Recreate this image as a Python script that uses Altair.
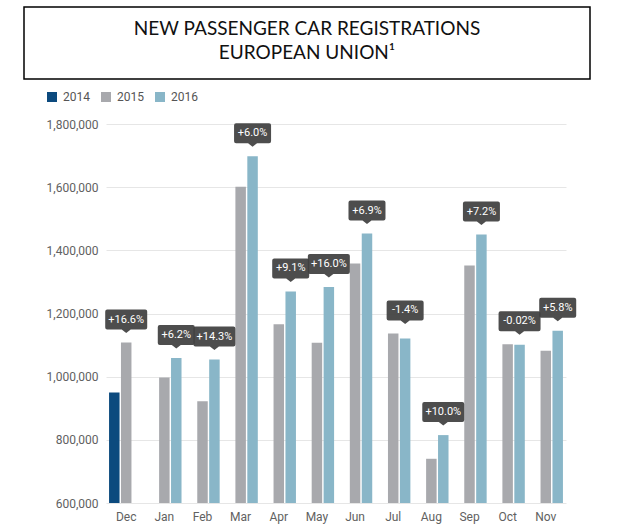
import altair as alt
import pandas as pd

# Monthly new passenger car registrations, EU (Dec 2015 - Nov 2016 vs. previous year)
months = ["Dec", "Jan", "Feb", "Mar", "Apr", "May", "Jun", "Jul", "Aug", "Sep", "Oct", "Nov"]
years = ["2014", "2015", "2016"]
reg_2014 = [950000, None, None, None, None, None, None, None, None, None, None, None]
reg_2015 = [1108000, 997000, 922000, 1601000, 1166000, 1107000, 1358000, 1137000, 740000, 1352000, 1103000, 1082000]
reg_2016 = [None, 1059000, 1054000, 1698000, 1270000, 1284000, 1453000, 1121000, 815000, 1450000, 1101000, 1145000]
changes = ["+16.6%", "+6.2%", "+14.3%", "+6.0%", "+9.1%", "+16.0%", "+6.9%", "-1.4%", "+10.0%", "+7.2%", "-0.02%", "+5.8%"]

colors = ["#0c4a7e", "#a8a9ad", "#89b6c8"]
y_ticks = [600000, 800000, 1000000, 1200000, 1400000, 1600000, 1800000]

series = dict(zip(years, [reg_2014, reg_2015, reg_2016]))
bar_rows, tag_rows = [], []
for i, m in enumerate(months):
    present = [(yr, series[yr][i]) for yr in years if series[yr][i] is not None]
    for yr, v in present:
        bar_rows.append({"month": m, "year": yr, "units": v})
    tag_rows.append({
        "month": m,
        "year": present[-1][0],
        "units": max(v for _, v in present),
        "change": changes[i],
        "wide": "wide" if len(changes[i]) > 5 else "narrow",
    })
bars_df = pd.DataFrame(bar_rows)
tags_df = pd.DataFrame(tag_rows)


def tag_path(w, unit=22.0):
    """Rounded callout box with a small pointer, in symbol units."""
    hw = w / 2 / unit
    top, bot, tip = -33 / unit, -13 / unit, -9.5 / unit
    pw, r = 4.5 / unit, 2 / unit
    f = lambda v: f"{v:.4f}"
    return (
        f"M{f(-hw + r)},{f(top)} L{f(hw - r)},{f(top)} Q{f(hw)},{f(top)} {f(hw)},{f(top + r)} "
        f"L{f(hw)},{f(bot - r)} Q{f(hw)},{f(bot)} {f(hw - r)},{f(bot)} "
        f"L{f(pw)},{f(bot)} L0,{f(tip)} L{f(-pw)},{f(bot)} "
        f"L{f(-hw + r)},{f(bot)} Q{f(-hw)},{f(bot)} {f(-hw)},{f(bot - r)} "
        f"L{f(-hw)},{f(top + r)} Q{f(-hw)},{f(top)} {f(-hw + r)},{f(top)} Z"
    )


x_axis = alt.Axis(title=None, labelAngle=0, ticks=False, domain=False, labelPadding=8,
                  labelFont="Roboto", labelFontSize=12, labelColor="#616161", grid=False)
y_axis = alt.Axis(title=None, values=y_ticks, format=",d", formatType="number", domain=False,
                  ticks=False, labelPadding=8, labelFont="Roboto", labelFontSize=12,
                  labelColor="#616161", gridColor="#e6e6e6", gridWidth=1)
y_scale = alt.Scale(domain=[600000, 1800000], zero=False, nice=False, clamp=True)
x_scale = alt.Scale(domain=months, paddingInner=0.1, paddingOuter=0.08)
off_scale = alt.Scale(domain=years, paddingInner=0.12)

# shared position encodings for every data layer
pos = dict(
    x=alt.X("month:N", sort=months, scale=x_scale, axis=x_axis, title=None),
    xOffset=alt.XOffset("year:N", scale=off_scale),
    y=alt.Y("units:Q", scale=y_scale, axis=y_axis, title=None),
)

bars = alt.Chart(bars_df).mark_bar().encode(
    color=alt.Color(
        "year:N",
        scale=alt.Scale(domain=years, range=colors),
        legend=alt.Legend(orient="none", legendX=-60, legendY=-33, direction="horizontal",
                          title=None, symbolType="square", symbolSize=100, symbolStrokeWidth=0,
                          labelFont="Roboto", labelFontSize=12, labelColor="#555555",
                          labelOffset=5, columnPadding=10, padding=0),
    ),
    **pos,
)

tag_boxes = alt.Chart(tags_df).mark_point(
    filled=True, fill="#404040", fillOpacity=0.93, strokeWidth=0, size=44 * 44
).encode(
    shape=alt.Shape("wide:N", scale=alt.Scale(domain=["narrow", "wide"],
                                              range=[tag_path(37), tag_path(42)]),
                    legend=None),
    **pos,
)

tag_text = alt.Chart(tags_df).mark_text(
    dy=-23, color="white", font="Roboto", fontSize=11, baseline="middle", align="center"
).encode(text="change:N", **pos)

one = alt.Data(values=[{}])
frame = alt.Chart(one).mark_rect(fillOpacity=0, stroke="#000000", strokeWidth=1.5).encode(
    x=alt.value(-82), x2=alt.value(484), y=alt.value(-117), y2=alt.value(-45)
)
head1 = alt.Chart(one).mark_text(font="Lato", fontSize=19, color="#111111", align="center",
                                 baseline="alphabetic").encode(
    x=alt.value(201), y=alt.value(-89), text=alt.value("NEW PASSENGER CAR REGISTRATIONS"))
head2 = alt.Chart(one).mark_text(font="Lato", fontSize=19, color="#111111", align="center",
                                 baseline="alphabetic").encode(
    x=alt.value(201), y=alt.value(-65), text=alt.value("EUROPEAN UNION¹"))

chart = alt.layer(frame, head1, head2, bars, tag_boxes, tag_text).properties(
    width=460, height=379,
    padding={"left": 106, "top": 124, "right": 59, "bottom": 28},
    autosize="none",
    background="white",
).configure_view(stroke=None)

chart.save("out.html", embed_options={"renderer": "svg", "actions": False})
